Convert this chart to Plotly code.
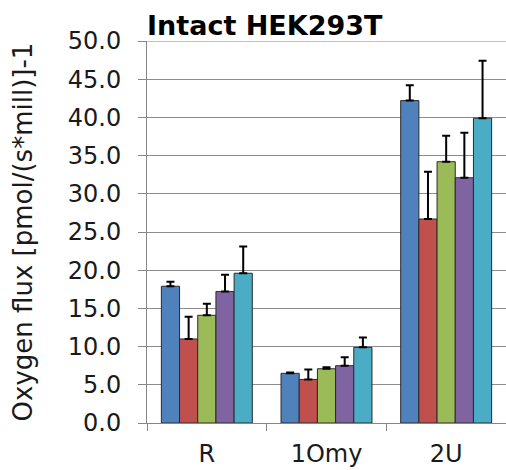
import plotly.graph_objects as go

categories = ["R", "1Omy", "2U"]
series_names = ["S1", "S2", "S3", "S4", "S5"]
colors = ["#4F81BD", "#C0504D", "#9BBB59", "#8064A2", "#4BACC6"]
values = [
    [17.9, 6.5, 42.2],
    [11.0, 5.7, 26.7],
    [14.1, 7.1, 34.2],
    [17.2, 7.5, 32.1],
    [19.6, 9.9, 39.9],
]
errors = [
    [0.6, 0.1, 2.0],
    [2.9, 1.3, 6.2],
    [1.5, 0.2, 3.4],
    [2.2, 1.1, 5.9],
    [3.5, 1.3, 7.5],
]
y_ticks = [0, 5, 10, 15, 20, 25, 30, 35, 40, 45, 50]
y_ticklabels = [f"{v:.1f}" for v in y_ticks]

fig = go.Figure()
for name, col, vals, errs in zip(series_names, colors, values, errors):
    fig.add_trace(go.Bar(
        x=categories, y=vals, name=name,
        marker=dict(color=col, line=dict(color="#2a2a2a", width=1)),
        error_y=dict(type="data", symmetric=False, array=errs,
                     arrayminus=[0] * len(errs), color="black",
                     thickness=2, width=4),
    ))

font_family = "DejaVu Sans, Verdana, sans-serif"
fig.update_layout(
    width=506, height=470,
    margin=dict(l=147, r=0, t=41, b=47),
    paper_bgcolor="white", plot_bgcolor="white",
    barmode="group", bargap=0.24, bargroupgap=0,
    showlegend=False,
    font=dict(family=font_family, size=24, color="#1a1a1a"),
    title=dict(text="<b>Intact HEK293T</b>", x=147 / 506, xref="container",
               xanchor="left", y=1 - 26 / 470, yref="container",
               yanchor="middle",
               font=dict(family=font_family, size=27, color="black")),
    xaxis=dict(type="category", tickson="boundaries", ticks="outside",
               ticklen=7, tickcolor="#868686", showgrid=False,
               showline=True, linecolor="#868686", linewidth=1,
               tickfont=dict(size=24), ticklabelstandoff=9,
               automargin=False),
    yaxis=dict(range=[0, 50], tickvals=y_ticks, ticktext=y_ticklabels,
               ticks="outside", ticklen=8, tickcolor="#868686",
               showgrid=True, gridcolor="#8c8c8c", gridwidth=1,
               showline=True, linecolor="#868686", linewidth=1,
               zeroline=False, tickfont=dict(size=24), ticklabelstandoff=12,
               automargin=False,
               title=dict(text="Oxygen flux [pmol/(s*mill)]-1",
                          font=dict(size=26), standoff=27)),
    shapes=[dict(type="line", xref="paper", x0=0, x1=1, yref="y",
                 y0=y_ticks[-1], y1=y_ticks[-1],
                 line=dict(color="#95B3D7", width=1.5))],
)

fig.write_html("out.html", config={"displayModeBar": False},
               post_script="document.body.style.margin='0';")
